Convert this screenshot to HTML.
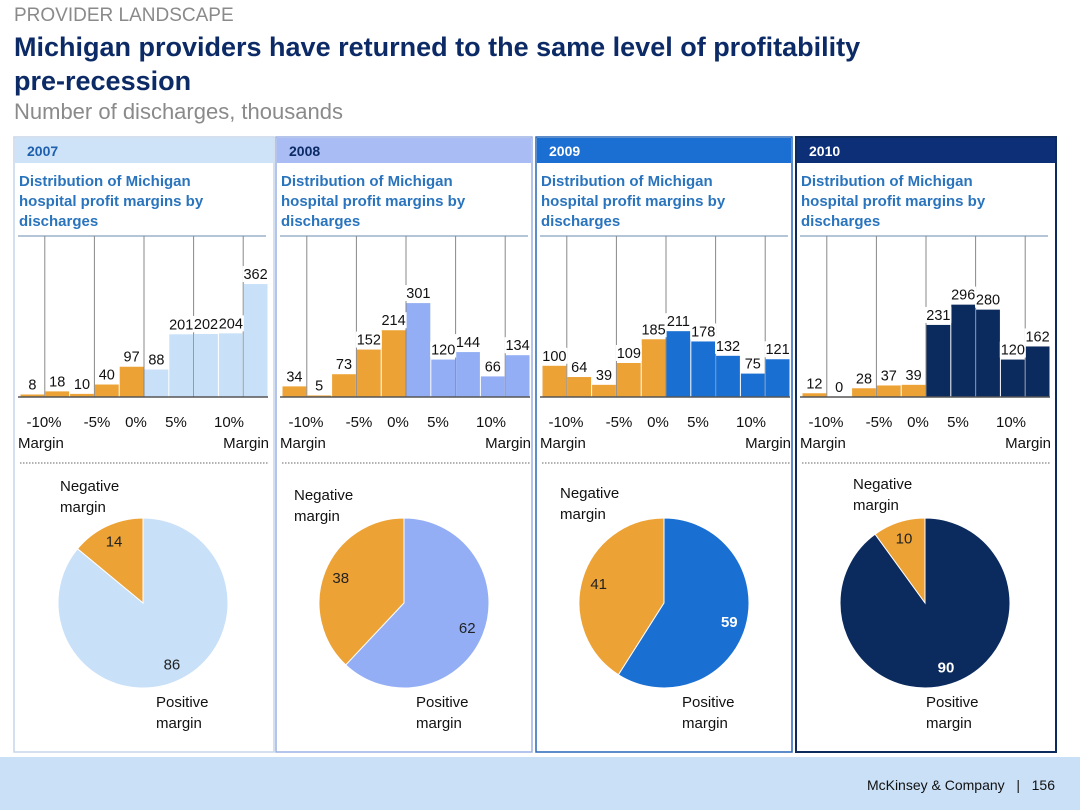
<!DOCTYPE html>
<html><head><meta charset="utf-8">
<style>
body{margin:0;width:1080px;height:810px;overflow:hidden;background:#fff;font-family:"Liberation Sans",Arial,sans-serif;position:relative}
.t{position:absolute;white-space:nowrap}
</style></head><body>
<div class="t" style="left:14px;top:5px;font-size:19px;color:#8a8a8a">PROVIDER LANDSCAPE</div>
<div class="t" style="left:14px;top:30px;font-size:27px;font-weight:bold;color:#0c2a66;line-height:34px">Michigan providers have returned to the same level of profitability<br>pre-recession</div>
<div class="t" style="left:14px;top:99px;font-size:22px;color:#8a8a8a">Number of discharges, thousands</div>
<div style="position:absolute;left:0;top:757px;width:1080px;height:53px;background:#c9e0f7"></div>
<div class="t" style="right:25px;top:777px;font-size:14px;color:#111">McKinsey &amp; Company &nbsp;&nbsp;|&nbsp;&nbsp; 156</div>
<svg id="chart" width="1080" height="810" style="position:absolute;left:0;top:0"></svg>
<script>
const years=["2007","2008","2009","2010"];
const vals2007=[8,18,10,40,97,88,201,202,204,362];
const vals2008=[34,5,73,152,214,301,120,144,66,134];
const vals2009=[100,64,39,109,185,211,178,132,75,121];
const vals2010=[12,0,28,37,39,231,296,280,120,162];
const negShare=[14,38,41,10];
const posShare=[86,62,59,90];
const tickLabels=["-10%","-5%","0%","5%","10%"];
const allVals=[vals2007,vals2008,vals2009,vals2010];
const panelX=[14,276,536,796];
const panelW=[260,256,256,260];
const posColor=["#c8e0f8","#93aef4","#1a6fd3","#0b2a5e"];
const headBg=["#cfe3f8","#a9bdf4","#1b6fd2","#0d2f78"];
const headFg=["#1e5fae","#0c2a66","#fff","#fff"];
const border=["#c5d6ea","#9cb1e4","#2766b8","#0d2a5c"];
const negColor="#eda236";
const svg=document.getElementById('chart');
const NS="http://www.w3.org/2000/svg";
function mk(tag,attrs,parent){const e=document.createElementNS(NS,tag);for(const k in attrs)e.setAttribute(k,attrs[k]);(parent||svg).appendChild(e);return e;}
const baseY=397, scale=0.312, barW=24.8;
function yOf(v){return baseY-v*scale;}
years.forEach((yr,p)=>{
  const px=panelX[p], pw=panelW[p];
  const g=mk('g',{});
  
  
  const fr=mk('rect',{x:px,y:137,width:pw,height:615,fill:'#fff',stroke:border[p],'stroke-width':p==3?2:1.5},g);
  
  
  const hd=mk('rect',{x:px+1,y:138,width:pw-2,height:25,fill:headBg[p]},g);
  
  
  const ht=mk('text',{x:px+13,y:156,'font-size':14,'font-weight':'bold',fill:headFg[p]},g);
  ht.textContent=yr;
  
  
  ["Distribution of Michigan","hospital profit margins by","discharges"].forEach((s,i)=>{
    const t=mk('text',{x:px+5,y:186+i*20,'font-size':15,'font-weight':'bold',fill:'#2a74bd'},g);
    t.textContent=s;
    
    
  });
  const bx=px+6;
  mk('line',{x1:px+4,x2:px+252,y1:236,y2:236,stroke:'#6a8bb0','stroke-width':1},g);
  [1,3,5,7,9].forEach(i=>{
    const gl=mk('line',{x1:bx+i*barW,x2:bx+i*barW,y1:236,y2:baseY,stroke:'#888','stroke-width':1},g);
    
    
  });
  const vals=allVals[p];
  vals.forEach((v,i)=>{
    const r=mk('rect',{x:bx+i*barW+0.5,y:yOf(v),width:barW-1,height:v*scale,fill:i<5?negColor:posColor[p]},g);
    
    
  });
  vals.forEach((v,i)=>{
    const cx=bx+i*barW+barW/2, ty=yOf(v)-5;
    const w=String(v).length*8+2;
    mk('rect',{x:cx-w/2,y:ty-13,width:w,height:16,fill:'#fff'},g);
    const t=mk('text',{x:cx,y:ty,'font-size':14.5,'text-anchor':'middle',fill:'#111'},g);
    t.textContent=v;
    
    
  });
  mk('line',{x1:px+4,x2:px+254,y1:baseY,y2:baseY,stroke:'#555','stroke-width':1.5},g);
  const tickOff=[24,77,116,156,209];
  tickLabels.forEach((s,i)=>{
    const t=mk('text',{x:bx+tickOff[i],y:427,'font-size':15,'text-anchor':'middle',fill:'#111'},g);
    t.textContent=s;
    
    
  });
  const m1=mk('text',{x:px+4,y:448,'font-size':15,fill:'#111'},g);m1.textContent='Margin';
  
  
  const m2=mk('text',{x:px+255,y:448,'font-size':15,fill:'#111','text-anchor':'end'},g);m2.textContent='Margin';
  
  
  mk('line',{x1:px+6,x2:px+254,y1:463,y2:463,stroke:'#999','stroke-width':1.5,'stroke-dasharray':'1.5 1.5'},g);
  const cx=[143,404,664,925][p], cy=603, R=85;
  const neg=negShare[p], pos=posShare[p], tot=neg+pos;
  const a=neg/tot*2*Math.PI;
  const ex=cx-R*Math.sin(a), ey=cy-R*Math.cos(a);
  const ps=mk('path',{d:`M${cx},${cy} L${cx},${cy-R} A${R},${R} 0 ${a>Math.PI?1:0} 0 ${ex},${ey} Z`,fill:negColor,stroke:'#fff','stroke-width':1},g);
  
  
  const pp=mk('path',{d:`M${cx},${cy} L${cx},${cy-R} A${R},${R} 0 ${a<Math.PI?1:0} 1 ${ex},${ey} Z`,fill:posColor[p],stroke:'#fff','stroke-width':1},g);
  
  
  const mn=a/2, mp=a+(2*Math.PI-a)/2;
  const ln=mk('text',{x:cx-0.8*R*Math.sin(mn),y:cy-0.8*R*Math.cos(mn)+5,'font-size':15,'text-anchor':'middle',fill:'#222'},g);
  ln.textContent=neg;
  
  
  const lp=mk('text',{x:cx-0.8*R*Math.sin(mp),y:cy-0.8*R*Math.cos(mp)+5,'font-size':15,'text-anchor':'middle',fill:p>=2?'#fff':'#222','font-weight':p>=2?'bold':'normal'},g);
  lp.textContent=pos;
  
  
  const nl=[[60,491],[294,500],[560,498],[853,489]][p];
  ["Negative","margin"].forEach((s,i)=>{const t=mk('text',{x:nl[0],y:nl[1]+i*21,'font-size':15,fill:'#111'},g);t.textContent=s;
    
    });
  const pl=[156,416,682,926][p];
  ["Positive","margin"].forEach((s,i)=>{const t=mk('text',{x:pl,y:707+i*21,'font-size':15,fill:'#111'},g);t.textContent=s;
    
    });
});
</script>
</body></html>
